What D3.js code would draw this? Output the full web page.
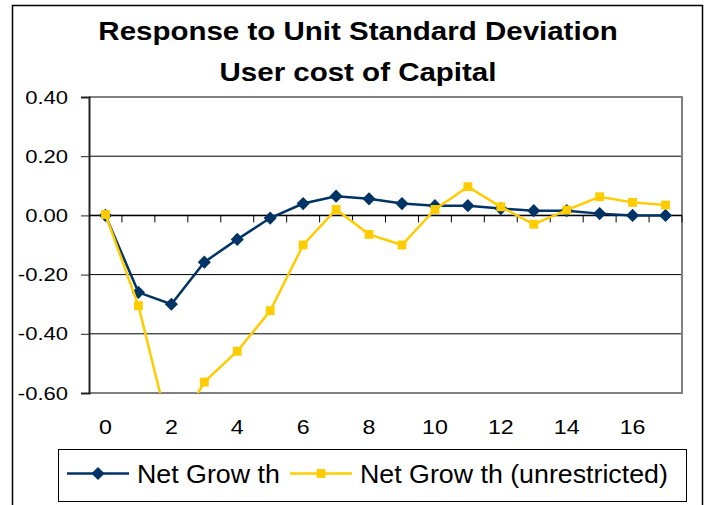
<!DOCTYPE html>
<html>
<head>
<meta charset="utf-8">
<script src="https://cdn.jsdelivr.net/npm/d3@7"></script>
<style>
  body { margin: 0; background: #fff; }
  svg { display: block; font-family: "Liberation Sans", Arial, sans-serif; }
</style>
</head>
<body>
<div id="chart"></div>
<script>
// periods after the shock
const periods = d3.range(0, 18);
const tickLabels = [0, 2, 4, 6, 8, 10, 12, 14, 16];
const yTicks = [0.4, 0.2, 0, -0.2, -0.4, -0.6];

// responses
const netGrowth = [0.00, -0.26, -0.30, -0.158, -0.081, -0.009, 0.040, 0.065, 0.056,
  0.040, 0.033, 0.033, 0.023, 0.016, 0.016, 0.006, 0.00, 0.00];
const netGrowthUnrestricted = [0.003, -0.305, -0.755, -0.563, -0.459, -0.322, -0.100, 0.020,
  -0.064, -0.100, 0.020, 0.097, 0.029, -0.030, 0.018, 0.063, 0.044, 0.035];

const titleLines = ["Response to Unit Standard Deviation", "User cost of Capital"];
const seriesNames = ["Net Grow th", "Net Grow th (unrestricted)"];

const width = 711, height = 505;
const plot = { left: 89, right: 682, top: 97, bottom: 393 };
const navy = "#003366", gold = "#FFCC00";
const stretch = 1.16; // the original's text is a bit wide

const svg = d3.select("#chart").append("svg")
  .attr("width", width)
  .attr("height", height);

// outer chart border
svg.append("rect")
  .attr("x", 12.5).attr("y", 5.5)
  .attr("width", 690).attr("height", 510)
  .attr("fill", "#fff").attr("stroke", "#000").attr("stroke-width", 1.5);

// title
svg.append("g")
  .selectAll("text")
  .data(titleLines)
  .join("text")
  .attr("transform", (d, i) => `translate(358,${40 + i * 41}) scale(1.18,1)`)
  .attr("text-anchor", "middle")
  .attr("font-size", 25)
  .attr("font-weight", "bold")
  .text(d => d);

const x = d3.scaleBand()
  .domain(periods)
  .range([plot.left, plot.right]);
const y = d3.scaleLinear()
  .domain([-0.6, 0.4])
  .range([plot.bottom, plot.top]);
const cx = d => x(d) + x.bandwidth() / 2;

// gridlines
svg.append("g")
  .selectAll("line")
  .data(yTicks.filter(v => v > -0.6 && v < 0.4))
  .join("line")
  .attr("x1", plot.left).attr("x2", plot.right)
  .attr("y1", d => y(d)).attr("y2", d => y(d))
  .attr("stroke", "#000").attr("stroke-width", 1);

// plot frame (top, right, bottom)
svg.append("path")
  .attr("d", `M${plot.left},${plot.top}H${plot.right}V${plot.bottom}H${plot.left}`)
  .attr("fill", "none").attr("stroke", "#808080").attr("stroke-width", 2);

// y axis
const fmt = v => d3.format(".2f")(v).replace("−", "-");
const yAxis = svg.append("g")
  .attr("transform", `translate(${plot.left},0)`)
  .call(d3.axisLeft(y).tickValues(yTicks).tickFormat(fmt).tickSize(8).tickPadding(13));
yAxis.select(".domain").attr("stroke", "#222").attr("stroke-width", 2);
yAxis.selectAll(".tick line").attr("stroke", "#222");
yAxis.selectAll("text")
  .attr("x", -21 / stretch)
  .attr("transform", `scale(${stretch},1)`)
  .attr("font-size", 19)
  .attr("font-family", "Liberation Sans, Arial, sans-serif")
  .attr("fill", "#000");

// x axis on the zero line, ticks between categories
const zeroY = y(0);
svg.append("line")
  .attr("x1", plot.left).attr("x2", plot.right)
  .attr("y1", zeroY).attr("y2", zeroY)
  .attr("stroke", "#000").attr("stroke-width", 1.5);
svg.append("g")
  .selectAll("line")
  .data(periods.slice(1).concat(["end"]))
  .join("line")
  .attr("x1", d => d === "end" ? plot.right : x(d))
  .attr("x2", d => d === "end" ? plot.right : x(d))
  .attr("y1", zeroY).attr("y2", zeroY + 7)
  .attr("stroke", "#000").attr("stroke-width", 1);

// x labels below the plot
svg.append("g")
  .selectAll("text")
  .data(tickLabels)
  .join("text")
  .attr("transform", d => `translate(${cx(d)},434) scale(${stretch},1)`)
  .attr("text-anchor", "middle")
  .attr("font-size", 20)
  .text(d => d);

// clip for series
svg.append("clipPath").attr("id", "plotclip")
  .append("rect")
  .attr("x", plot.left).attr("y", plot.top)
  .attr("width", plot.right - plot.left).attr("height", plot.bottom - plot.top);

const line = d3.line()
  .x((d, i) => cx(periods[i]))
  .y(d => y(d));

const series = svg.append("g").attr("clip-path", "url(#plotclip)");

const diamond = d3.symbol().type(d3.symbolDiamond2).size(110);
const square = d3.symbol().type(d3.symbolSquare2).size(100);

// navy series
series.append("path")
  .datum(netGrowth)
  .attr("d", line)
  .attr("fill", "none").attr("stroke", navy).attr("stroke-width", 2.5);
series.append("g")
  .selectAll("path")
  .data(netGrowth)
  .join("path")
  .attr("transform", (d, i) => `translate(${cx(periods[i])},${y(d)})`)
  .attr("d", diamond)
  .attr("fill", navy);

// gold series
series.append("path")
  .datum(netGrowthUnrestricted)
  .attr("d", line)
  .attr("fill", "none").attr("stroke", gold).attr("stroke-width", 2.5);
series.append("g")
  .selectAll("path")
  .data(netGrowthUnrestricted)
  .join("path")
  .attr("transform", (d, i) => `translate(${cx(periods[i])},${y(d)})`)
  .attr("d", square)
  .attr("fill", gold);

// legend
const legend = svg.append("g");
legend.append("rect")
  .attr("x", 58.5).attr("y", 449.5)
  .attr("width", 628).attr("height", 52)
  .attr("fill", "#fff").attr("stroke", "#000").attr("stroke-width", 1);

const legendItems = [
  { name: seriesNames[0], color: navy, symbol: diamond, x0: 67 },
  { name: seriesNames[1], color: gold, symbol: square, x0: 290 }
];
const ly = 473.5;
legendItems.forEach(item => {
  legend.append("line")
    .attr("x1", item.x0).attr("x2", item.x0 + 62)
    .attr("y1", ly).attr("y2", ly)
    .attr("stroke", item.color).attr("stroke-width", 2.5);
  legend.append("path")
    .attr("transform", `translate(${item.x0 + 31},${ly})`)
    .attr("d", item.symbol)
    .attr("fill", item.color);
  legend.append("text")
    .attr("transform", `translate(${item.x0 + 70},${ly + 9}) scale(1.03,1)`)
    .attr("font-size", 26)
    .text(item.name);
});
</script>
</body>
</html>
